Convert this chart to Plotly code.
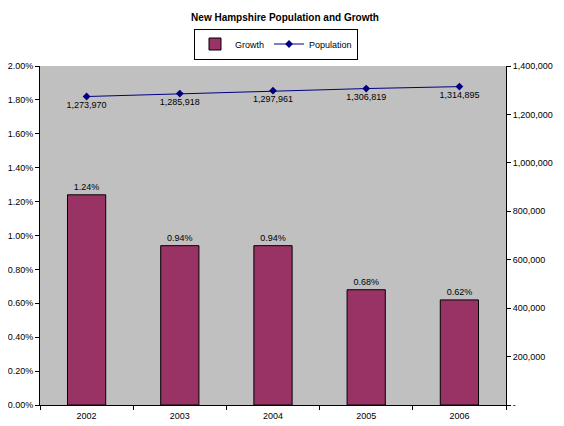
import plotly.graph_objects as go

years = ["2002", "2003", "2004", "2005", "2006"]
growth = [0.0124, 0.0094, 0.0094, 0.0068, 0.0062]
growth_labels = ["1.24%", "0.94%", "0.94%", "0.68%", "0.62%"]
population = [1273970, 1285918, 1297961, 1306819, 1314895]
pop_ticks = [0, 200000, 400000, 600000, 800000, 1000000, 1200000, 1400000]
pop_tick_labels = ["-", "200,000", "400,000", "600,000", "800,000", "1,000,000", "1,200,000", "1,400,000"]

W, H = 556, 418  # page body adds an 8px margin

fig = go.Figure()

fig.add_trace(go.Bar(
    x=years, y=growth, name="Growth",
    marker=dict(color="#993366", line=dict(color="black", width=1)),
    width=0.41,
    text=growth_labels, textposition="outside",
    textfont=dict(size=9, color="black"),
    cliponaxis=False,
))

fig.add_trace(go.Scatter(
    x=years, y=population, name="Population", yaxis="y2",
    mode="lines+markers+text",
    line=dict(color="#000080", width=1),
    marker=dict(symbol="diamond", size=6, color="#000080"),
    text=[f"{p:,}" for p in population], textposition="bottom center",
    textfont=dict(size=9, color="black"),
))

fig.update_layout(
    width=W, height=H,
    paper_bgcolor="white", plot_bgcolor="#C0C0C0",
    font=dict(family="Liberation Sans, Arial, sans-serif", size=9, color="black"),
    title=dict(text="<b>New Hampshire Population and Growth</b>", x=(285 - 8) / W,
               xanchor="center", yref="container", y=1 - 9 / H, yanchor="middle",
               font=dict(size=10)),
    margin=dict(l=32, r=58, t=58, b=21, autoexpand=False),
    showlegend=True,
    legend=dict(orientation="h", x=(276 - 8) / W, xanchor="center", xref="container",
                yref="container", y=1 - 36 / H, yanchor="middle",
                bordercolor="black", borderwidth=1, bgcolor="white",
                font=dict(size=9), itemwidth=30, tracegroupgap=0),
    bargap=0.59,
    xaxis=dict(type="category", showline=True, linecolor="black", linewidth=1,
               ticks="outside", ticklen=4, tickcolor="black", tickson="boundaries",
               showgrid=False, tickfont=dict(size=9), ticklabelstandoff=2),
    yaxis=dict(range=[0, 0.02], dtick=0.002, tickformat=".2%", showline=True,
               linecolor="black", linewidth=1, ticks="outside", ticklen=4,
               tickcolor="black", showgrid=False, zeroline=False, tickfont=dict(size=9)),
    yaxis2=dict(range=[0, 1400000], tickvals=pop_ticks, ticktext=pop_tick_labels,
                overlaying="y", side="right", showline=True, linecolor="black",
                linewidth=1, ticks="outside", ticklen=4, tickcolor="black",
                showgrid=False, zeroline=False, tickfont=dict(size=9)),
)

fig.write_html("out.html")
